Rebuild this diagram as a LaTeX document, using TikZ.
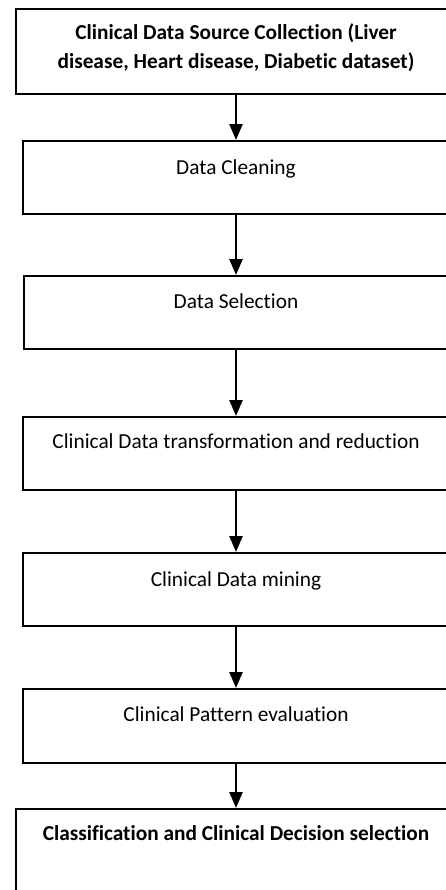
\documentclass[tikz,border=0pt]{standalone}
\usepackage{fontspec}
\setmainfont{Carlito}[Ligatures=NoCommon]
\usetikzlibrary{arrows.meta}
\begin{document}
\begin{tikzpicture}[x=0.6pt,y=-0.6pt,
  stepbox/.style={draw=black,line width=1.2pt,fill=white,inner sep=0pt,minimum height=43.8pt,minimum width=256pt},
  steptext/.style={font=\fontsize{12.8pt}{17.4pt}\selectfont,anchor=base,inner sep=0pt,align=center},
  boldtext/.style={steptext,font=\fontsize{12.8pt}{17.4pt}\selectfont\bfseries},
  arr/.style={line width=1.6pt,-{Triangle[width=7.8pt,length=9.6pt]}}]
\useasboundingbox (0,0) rectangle (446,890);
\clip (0,0) rectangle (446,890);
\node[stepbox,minimum width=264.4pt,minimum height=51pt] (b1) at (236,51.5) {};
\node[stepbox] (b2) at (236,177.5) {};
\node[stepbox,minimum width=254.4pt] (b3) at (236,312.5) {};
\node[stepbox] (b4) at (236,453.5) {};
\node[stepbox] (b5) at (236,589.5) {};
\node[stepbox,minimum height=44.4pt] (b6) at (236,726) {};
\node[stepbox,minimum width=264pt,minimum height=60pt] (b7) at (236,859) {};
\node[boldtext] (t1) at (236,68) {Clinical Data Source Collection (Liver\\disease, Heart disease, Diabetic dataset)};
\node[steptext] (t2) at (236,174) {Data Cleaning};
\node[steptext] (t3) at (236,308) {Data Selection};
\node[steptext] (t4) at (236,448) {Clinical Data transformation and reduction};
\node[steptext] (t5) at (236,586) {Clinical Data mining};
\node[steptext] (t6) at (236,721) {Clinical Pattern evaluation};
\node[boldtext] (t7) at (236,840) {Classification and Clinical Decision selection};
\draw[arr] (b1.south) -- (b2.north);
\draw[arr] (b2.south) -- (b3.north);
\draw[arr] (b3.south) -- (b4.north);
\draw[arr] (b4.south) -- (b5.north);
\draw[arr] (b5.south) -- (b6.north);
\draw[arr] (b6.south) -- (b7.north);
\end{tikzpicture}
\end{document}
